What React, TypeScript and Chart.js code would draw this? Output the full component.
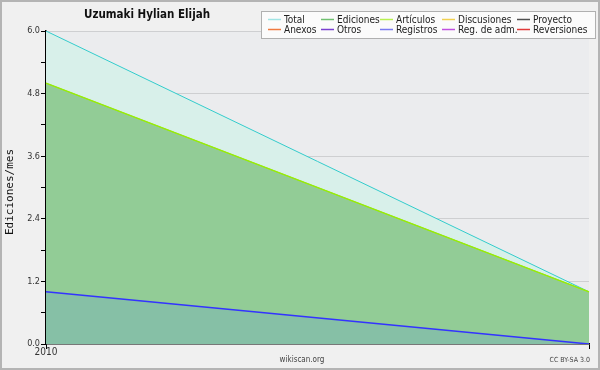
import React, { useEffect, useRef } from "react";
import { Chart, registerables } from "chart.js";

Chart.register(...registerables);

const categories = ["2010", ""];
const totalValues = [6.0, 1.0];
const edicionesValues = [5.0, 1.0];
const articulosValues = [5.0, 1.0];
const registrosValues = [1.0, 0.0];

const legendNames = [
  "Total", "Ediciones", "Artículos", "Discusiones", "Proyecto",
  "Anexos", "Otros", "Registros", "Reg. de adm.", "Reversiones",
];
const legendColors = [
  "#a0e4e4", "#70c070", "#b8f050", "#f0d050", "#505050",
  "#f07a40", "#7a40d0", "#7a7af0", "#c050e0", "#e03a3a",
];

const titleText = "Uzumaki Hylian Elijah";
const yAxisTitle = "Ediciones/mes";
const FONT = "'DejaVu Sans Condensed', 'Liberation Sans Narrow', 'DejaVu Sans'";

const decorPlugin = {
  id: "decor",
  beforeDraw(chart: any) {
    const { ctx, chartArea } = chart;
    ctx.save();
    ctx.fillStyle = "#f0f0f0";
    ctx.fillRect(0, 0, 600, 370);
    ctx.strokeStyle = "#b4b4b4";
    ctx.lineWidth = 2;
    ctx.strokeRect(1, 1, 598, 368);
    ctx.fillStyle = "#ebecee";
    ctx.fillRect(chartArea.left, chartArea.top, chartArea.right - chartArea.left, chartArea.bottom - chartArea.top);
    ctx.restore();
  },
  afterDraw(chart: any) {
    const { ctx } = chart;
    ctx.save();
    // title
    ctx.fillStyle = "#111";
    ctx.font = "bold 11.5px " + FONT;
    ctx.textAlign = "center";
    ctx.textBaseline = "middle";
    ctx.fillText(titleText, 147, 15);
    // y axis title
    ctx.save();
    ctx.translate(10, 192);
    ctx.rotate(-Math.PI / 2);
    ctx.font = "11px 'DejaVu Sans Mono'";
    ctx.fillStyle = "#111";
    ctx.fillText(yAxisTitle, 0, 0);
    ctx.restore();
    // footer
    ctx.font = "8px " + FONT;
    ctx.fillStyle = "#444";
    ctx.fillText("wikiscan.org", 302, 360);
    ctx.textAlign = "right";
    ctx.font = "7px " + FONT;
    ctx.fillText("CC BY-SA 3.0", 590, 360);
    // legend box
    ctx.fillStyle = "#fbfbfb";
    ctx.fillRect(261.5, 11.5, 334, 27);
    ctx.strokeStyle = "#b0b0b0";
    ctx.lineWidth = 1;
    ctx.strokeRect(261.5, 11.5, 334, 27);
    const colX = [268, 321, 380, 442, 517];
    const rowY = [19, 29];
    ctx.font = "10px " + FONT;
    ctx.textAlign = "left";
    legendNames.forEach((name, i) => {
      const c = i % 5;
      const r = Math.floor(i / 5);
      const x = colX[c];
      const y = rowY[r];
      ctx.strokeStyle = legendColors[i];
      ctx.lineWidth = 1.5;
      ctx.beginPath();
      ctx.moveTo(x, y + 0.5);
      ctx.lineTo(x + 13, y + 0.5);
      ctx.stroke();
      ctx.fillStyle = "#222";
      ctx.fillText(name, x + 16, y + 1);
    });
    ctx.restore();
  },
};

export default function App() {
  const ref = useRef<HTMLCanvasElement | null>(null);
  useEffect(() => {
    if (!ref.current) return;
    const chart = new Chart(ref.current, {
      type: "line",
      data: {
        labels: categories,
        datasets: [
          {
            label: "Total",
            data: totalValues,
            borderColor: "#33cccc",
            backgroundColor: "#d8f0ea",
            borderWidth: 1,
            fill: "origin",
            pointRadius: 0,
            order: 5,
          },
          {
            label: "Ediciones",
            data: edicionesValues,
            borderColor: "#80c080",
            backgroundColor: "#92cc96",
            borderWidth: 1,
            fill: "origin",
            pointRadius: 0,
            order: 4,
          },
          {
            label: "Registros",
            data: registrosValues,
            borderColor: "#3333ff",
            backgroundColor: "#86c0a6",
            borderWidth: 1.5,
            fill: "origin",
            pointRadius: 0,
            order: 2,
          },
          {
            label: "Artículos",
            data: articulosValues,
            borderColor: "#99ee00",
            backgroundColor: "rgba(0,0,0,0)",
            borderWidth: 1.5,
            fill: false,
            pointRadius: 0,
            order: 3,
          },
        ],
      },
      options: {
        animation: false,
        responsive: false,
        layout: { padding: { top: 31, right: 11, left: 0, bottom: 0 } },
        plugins: {
          legend: { display: false },
          tooltip: { enabled: false },
          title: { display: false },
        },
        scales: {
          x: {
            offset: false,
            z: 1,
            afterFit: (s: any) => { s.height = 26; },
            grid: { drawOnChartArea: false, tickLength: 5, tickColor: "#000" },
            border: { color: "#000", width: 1.5 },
            ticks: {
              maxRotation: 0,
              autoSkip: false,
              padding: -3,
              font: { family: FONT, size: 10 },
              color: "#333",
            },
          },
          y: {
            min: 0,
            max: 6,
            z: 1,
            afterFit: (s: any) => { s.width = 46; },
            afterBuildTicks: (s: any) => {
              const t = [];
              for (let i = 0; i <= 10; i++) t.push({ value: +(i * 0.6).toFixed(1) });
              s.ticks = t;
            },
            grid: {
              color: (c: any) => {
                const v = c.tick ? c.tick.value : 0;
                const major = Math.abs(v / 1.2 - Math.round(v / 1.2)) < 1e-6;
                return major && v > 0 ? "rgba(0,0,0,0.12)" : "rgba(0,0,0,0)";
              },
              tickColor: "#000",
              tickLength: 5,
            },
            border: { color: "#000", width: 1.5 },
            ticks: {
              padding: 1,
              font: { family: FONT, size: 9 },
              color: "#333",
              callback: (v: any) => {
                const n = Number(v);
                const major = Math.abs(n / 1.2 - Math.round(n / 1.2)) < 1e-6;
                return major ? n.toFixed(1) : "";
              },
            },
          },
        },
      },
      plugins: [decorPlugin],
    });
    return () => chart.destroy();
  }, []);
  return (
    <div style={{ position: "fixed", left: 0, top: 0, width: 600, height: 370 }}>
      <canvas ref={ref} width={600} height={370} />
    </div>
  );
}
